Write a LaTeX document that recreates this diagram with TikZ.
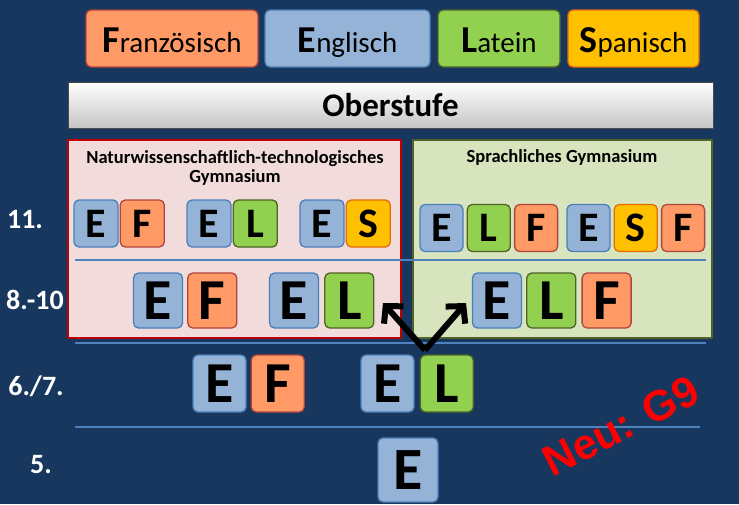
\documentclass[tikz,border=0pt]{standalone}
\usepackage{fontspec}
\setmainfont{Carlito}
\newfontfamily\arialfont{Liberation Sans}
\usetikzlibrary{arrows.meta,positioning,calc}
\newcommand{\fsz}[1]{\fontsize{#1}{#1}\selectfont}

\definecolor{bgBlue}{HTML}{17375E}
\definecolor{tileBlue}{HTML}{95B3D7}
\definecolor{tileBlueDark}{HTML}{4A7EBB}
\definecolor{tileOrange}{HTML}{FF9A66}
\definecolor{tileOrangeDark}{HTML}{B0443C}
\definecolor{tileGreen}{HTML}{92D050}
\definecolor{tileGreenDark}{HTML}{4F6228}
\definecolor{tileYellow}{HTML}{FFC000}
\definecolor{tileYellowDark}{HTML}{E46C0A}
\definecolor{naturFill}{HTML}{F2DCDB}
\definecolor{naturLine}{HTML}{C00000}
\definecolor{sprachFill}{HTML}{D7E4BD}
\definecolor{sprachLine}{HTML}{4F6228}
\definecolor{sepLine}{HTML}{4F81BD}

\tikzstyle{tile} = [rounded corners=5pt, line width=1.3pt, inner sep=0pt, text=black]
\tikzstyle{tileE} = [tile, fill=tileBlue, draw=tileBlueDark]
\tikzstyle{tileF} = [tile, fill=tileOrange, draw=tileOrangeDark]
\tikzstyle{tileL} = [tile, fill=tileGreen, draw=tileGreenDark]
\tikzstyle{tileS} = [tile, fill=tileYellow, draw=tileYellowDark]
\tikzstyle{rowElf} = [minimum width=44pt, minimum height=47pt, font=\bfseries\fsz{42}]
\tikzstyle{rowAcht} = [minimum width=49pt, minimum height=55pt, font=\bfseries\fsz{58}]
\tikzstyle{rowSechs} = [minimum width=53pt, minimum height=57pt, font=\bfseries\fsz{58}]
\tikzstyle{rowFuenf} = [minimum width=60pt, minimum height=64pt, font=\bfseries\fsz{60}]
\tikzstyle{langbox} = [tile, minimum height=57pt, text height=27pt, text depth=0pt, font=\fsz{29}]
\tikzstyle{gradeLabel} = [text=white, font=\bfseries\fsz{28}]
\tikzstyle{boxTitle} = [text=black, font=\bfseries\fsz{18.5}, align=center]
\tikzstyle{sep} = [draw=sepLine, line width=1.5pt]
\tikzstyle{choice} = [line width=6pt, -{Straight Barb[length=12pt,width=26pt]}]

\begin{document}
\begin{tikzpicture}[x=1pt,y=-1pt,line join=round]
    \fill[bgBlue] (0,0) rectangle (739,504);

    % Sprachen
    \node[langbox, fill=tileOrange, draw=tileOrangeDark, minimum width=172pt] (franzNode) at (172,38.5) {\textbf{\fsz{38}F}ranzösisch};
    \node[langbox, fill=tileBlue, draw=tileBlueDark, minimum width=165pt] (englNode) at (347.5,38.5) {\textbf{\fsz{38}E}nglisch};
    \node[langbox, fill=tileGreen, draw=tileGreenDark, minimum width=122pt] (latNode) at (499,38.5) {\textbf{\fsz{38}L}atein};
    \node[langbox, fill=tileYellow, draw=tileYellowDark, minimum width=131pt] (spanNode) at (633.5,38.5) {\textbf{\fsz{38}S}panisch};

    \node[draw=black!70, line width=1pt, top color=white, bottom color=gray!45, minimum width=645pt, minimum height=46pt, font=\bfseries\fsz{33}] (oberNode) at (390.5,105) {Oberstufe};

    % Zweige
    \node[draw=naturLine, fill=naturFill, line width=2pt, minimum width=333pt, minimum height=198pt, inner sep=0pt] (naturNode) at (234.5,239) {};
    \node[draw=sprachLine, fill=sprachFill, line width=2pt, minimum width=299pt, minimum height=198pt, inner sep=0pt] (sprachNode) at (562.5,239) {};
    \node[boxTitle] (naturTitle) at (235,168) {Naturwissenschaftlich-technologisches\\[1pt]Gymnasium};
    \node[boxTitle] (sprachTitle) at (562,157) {Sprachliches Gymnasium};

    \draw[sep] (75,260) -- (706,260);
    \draw[sep] (75,343) -- (706,343);
    \draw[sep] (75,427) -- (700,427);

    \node[gradeLabel] (elfLabel) at (25,219) {11.};
    \node[gradeLabel] (achtLabel) at (35,300) {8.-10};
    \node[gradeLabel] (sechsLabel) at (36,386) {6./7.};
    \node[gradeLabel] (fuenfLabel) at (41,465) {5.};

    % 11.
    \node[tileE, rowElf] (nwE11a) at (96,223.5) {E};
    \node[tileF, rowElf, right=1pt of nwE11a] (nwF11a) {F};
    \node[tileE, rowElf] (nwE11b) at (209,223.5) {E};
    \node[tileL, rowElf, right=1pt of nwE11b] (nwL11b) {L};
    \node[tileE, rowElf] (nwE11c) at (322,223.5) {E};
    \node[tileS, rowElf, right=1pt of nwE11c] (nwS11c) {S};

    \node[tileE, rowElf, minimum width=43pt] (spE11a) at (441.5,228) {E};
    \node[tileL, rowElf, minimum width=43pt, right=3pt of spE11a] (spL11a) {L};
    \node[tileF, rowElf, minimum width=43pt, right=3pt of spL11a] (spF11a) {F};
    \node[tileE, rowElf, minimum width=43pt] (spE11b) at (588.5,228) {E};
    \node[tileS, rowElf, minimum width=43pt, right=3pt of spE11b] (spS11b) {S};
    \node[tileF, rowElf, minimum width=43pt, right=3pt of spS11b] (spF11b) {F};

    % 8.-10.
    \node[tileE, rowAcht] (nwE810a) at (158,300.5) {E};
    \node[tileF, rowAcht, right=4pt of nwE810a] (nwF810a) {F};
    \node[tileE, rowAcht] (nwE810b) at (294,300.5) {E};
    \node[tileL, rowAcht, right=5pt of nwE810b] (nwL810b) {L};

    \node[tileE, rowAcht] (spE810) at (497,300.5) {E};
    \node[tileL, rowAcht, right=4pt of spE810] (spL810) {L};
    \node[tileF, rowAcht, right=5pt of spL810] (spF810) {F};

    % 6./7.
    \node[tileE, rowSechs] (sE67a) at (219.5,383.5) {E};
    \node[tileF, rowSechs, right=4pt of sE67a] (sF67a) {F};
    \node[tileE, rowSechs] (sE67b) at (387.5,383.5) {E};
    \node[tileL, rowSechs, right=5pt of sE67b] (sL67b) {L};

    % 5.
    \node[tileE, rowFuenf] (sE5) at (408,470) {E};

    % Wahl nach Klasse 7
    \coordinate (forkNode) at (425,350);
    \coordinate (naturTip) at (383,303);
    \coordinate (sprachTip) at (466,303);
    \draw[choice] (forkNode) -- (naturTip);
    \draw[choice] (forkNode) -- (sprachTip);

    \node[rotate=27, text=red, font=\arialfont\bfseries\fsz{43}] (neuNode) at (621,426) {Neu: G9};
\end{tikzpicture}
\end{document}
